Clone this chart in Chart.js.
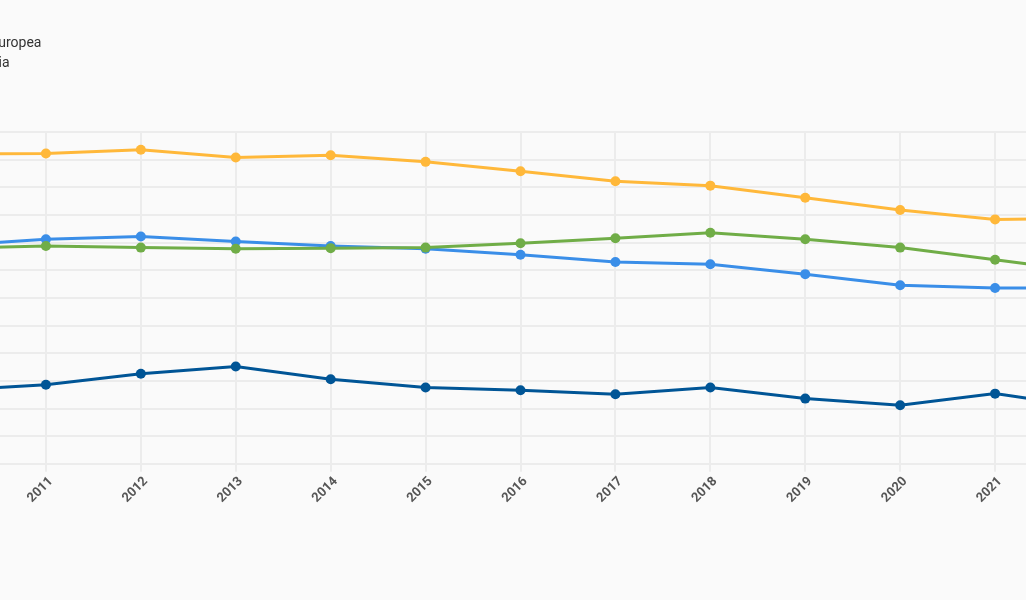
<!DOCTYPE html>
<html>
<head>
<meta charset="utf-8">
<title>Evolución 2010-2022</title>
<script src="https://cdn.jsdelivr.net/npm/chart.js"></script>
<style>
html, body {
    margin: 0;
    padding: 0;
    width: 1026px;
    height: 600px;
    overflow: hidden;
    background: #fafafa;
    font-family: Roboto, "Noto Sans", sans-serif;
}
#wrap {
    position: absolute;
    left: -120px;
    top: 0;
    width: 1250px;
    height: 600px;
}
#legend {
    position: absolute;
    left: -267px;
    top: 33px;
    display: grid;
    grid-template-columns: 200px auto;
    row-gap: 2px;
    font-size: 14px;
    color: #333;
}
#legend .item {
    display: flex;
    align-items: center;
    height: 18px;
    white-space: nowrap;
}
#legend .box {
    width: 12px;
    height: 12px;
    border-radius: 2px;
    margin-right: 6px;
}
</style>
</head>
<body>

<div id="wrap"><canvas id="chart"></canvas></div>
<div id="legend"></div>

<script>

// -------- DATA --------
const years = ['2010', '2011', '2012', '2013', '2014', '2015', '2016',
               '2017', '2018', '2019', '2020', '2021', '2022'];

const espana = [13.3, 14.3, 16.3, 17.6, 15.3, 13.8, 13.3, 12.6, 13.8, 11.8, 10.6, 12.7, 10.2];
const ue = [39.0, 39.4, 39.1, 38.9, 39.0, 39.1, 39.9, 40.8, 41.8, 40.6, 39.1, 36.9, 34.7];
const alemania = [56.0, 56.1, 56.8, 55.4, 55.8, 54.6, 52.9, 51.1, 50.3, 48.1, 45.9, 44.2, 44.4];
const francia = [39.5, 40.6, 41.1, 40.2, 39.4, 38.9, 37.8, 36.5, 36.1, 34.3, 32.3, 31.8, 31.8];

const yMin = 0;
const yMax = 60;
const yStep = 5;

// legend order: two rows, two columns
const series = [
    { label: 'España', data: espana, color: '#005596' },
    { label: 'Unión Europea', data: ue, color: '#70ad47' },
    { label: 'Francia', data: francia, color: '#3a8ee8' },
    { label: 'Alemania', data: alemania, color: '#ffb83a' }
];

// -------- CHART --------
const datasets = series.map(s => ({
    label: s.label,
    data: s.data,
    borderColor: s.color,
    backgroundColor: s.color,
    borderWidth: 3,
    pointRadius: 5,
    pointHoverRadius: 5,
    pointBorderWidth: 0,
    tension: 0,
    fill: false
}));

new Chart(document.getElementById('chart'), {
    type: 'line',
    data: { labels: years, datasets: datasets },
    options: {
        responsive: true,
        maintainAspectRatio: false,
        animation: false,
        layout: {
            padding: { left: 71, right: 40, top: 132, bottom: 92 }
        },
        plugins: {
            legend: { display: false },
            tooltip: { enabled: false }
        },
        scales: {
            x: {
                offset: false,
                grid: { color: '#ececec', lineWidth: 2, tickLength: 8 },
                border: { display: false },
                ticks: {
                    color: '#555',
                    maxRotation: 45,
                    minRotation: 45,
                    padding: 2,
                    labelOffset: 5,
                    font: { family: 'Roboto', size: 13, weight: 'bold' }
                }
            },
            y: {
                min: yMin,
                max: yMax,
                grid: { color: '#ececec', lineWidth: 2, drawTicks: false },
                border: { display: false },
                ticks: { display: false, stepSize: yStep }
            }
        }
    }
});

// -------- HTML LEGEND --------
const legend = document.getElementById('legend');
series.forEach(s => {
    const item = document.createElement('div');
    item.className = 'item';
    const box = document.createElement('span');
    box.className = 'box';
    box.style.background = s.color;
    const txt = document.createElement('span');
    txt.textContent = s.label;
    item.appendChild(box);
    item.appendChild(txt);
    legend.appendChild(item);
});

</script>
</body>
</html>
